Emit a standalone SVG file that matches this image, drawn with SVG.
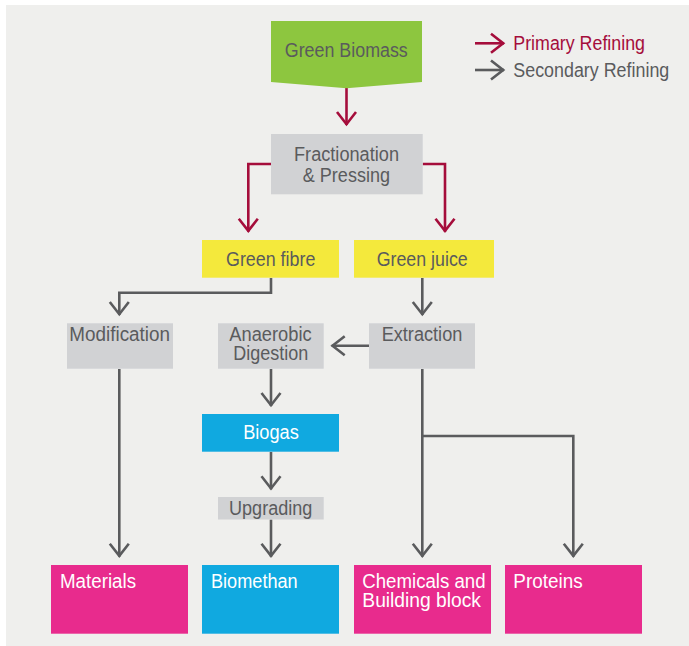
<svg xmlns="http://www.w3.org/2000/svg" width="689" height="646" viewBox="0 0 689 646">
  <style>
    text { font-family: "Liberation Sans", Arial, sans-serif; font-size: 20px; }
    .dark { fill: #5a5b5d; }
    .light { fill: #ffffff; }
    .mid { text-anchor: middle; }
    .grey { fill: #d1d2d4; }
    .prim { fill: none; stroke: #a50d3b; stroke-width: 2.6; }
    .sec { fill: none; stroke: #5a5b5d; stroke-width: 2.6; }
  </style>
  <defs>
    <marker id="headPrim" markerUnits="userSpaceOnUse" markerWidth="20" markerHeight="24" viewBox="-16 -12 20 24" refX="0" refY="0" orient="auto">
      <path d="M-13,-9.5 L-0.8,0 L-13,9.5" fill="none" stroke="#a50d3b" stroke-width="2.6"/>
    </marker>
    <marker id="headSec" markerUnits="userSpaceOnUse" markerWidth="20" markerHeight="24" viewBox="-16 -12 20 24" refX="0" refY="0" orient="auto">
      <path d="M-13,-9.5 L-0.8,0 L-13,9.5" fill="none" stroke="#5a5b5d" stroke-width="2.6"/>
    </marker>
  </defs>

  <rect x="0" y="0" width="689" height="646" fill="#ffffff"/>
  <rect x="6" y="5" width="683" height="641" fill="#efefed"/>

  <!-- legend -->
  <g id="legend">
    <path class="prim" d="M475,43.3 H504" marker-end="url(#headPrim)"/>
    <text x="513.3" y="50" fill="#a50d3b" textLength="131.7" lengthAdjust="spacingAndGlyphs">Primary Refining</text>
    <path class="sec" d="M475,70 H504" marker-end="url(#headSec)"/>
    <text class="dark" x="513.3" y="76.7" textLength="156" lengthAdjust="spacingAndGlyphs">Secondary Refining</text>
  </g>

  <!-- connectors -->
  <g id="connectors">
    <path class="prim" d="M346.5,88 V125" marker-end="url(#headPrim)"/>
    <path class="prim" d="M271,164 H248.3 V231.7" marker-end="url(#headPrim)"/>
    <path class="prim" d="M422.7,164 H445 V231.7" marker-end="url(#headPrim)"/>
    <path class="sec" d="M271,278 V292.7 H119.3 V315" marker-end="url(#headSec)"/>
    <path class="sec" d="M422.3,278 V315" marker-end="url(#headSec)"/>
    <path class="sec" d="M369,345.7 H331.7" marker-end="url(#headSec)"/>
    <path class="sec" d="M271,369 V406" marker-end="url(#headSec)"/>
    <path class="sec" d="M271,452 V489.3" marker-end="url(#headSec)"/>
    <path class="sec" d="M271,519.5 V556.7" marker-end="url(#headSec)"/>
    <path class="sec" d="M119.3,369 V556.7" marker-end="url(#headSec)"/>
    <path class="sec" d="M422.3,369 V556.7" marker-end="url(#headSec)"/>
    <path class="sec" d="M422.3,436 H573.3 V556.7" marker-end="url(#headSec)"/>
  </g>

  <!-- nodes -->
  <g id="green-biomass">
    <path d="M271,21 H422 V82 L346.5,88.3 L271,82 Z" fill="#8dc63f"/>
    <text class="dark mid" x="346.3" y="56.7" textLength="123" lengthAdjust="spacingAndGlyphs">Green Biomass</text>
  </g>
  <g id="fractionation">
    <rect class="grey" x="271" y="134" width="151.7" height="60.3"/>
    <text class="dark mid" x="346.5" y="160.7" textLength="105" lengthAdjust="spacingAndGlyphs">Fractionation</text>
    <text class="dark mid" x="346.4" y="181.7" textLength="87.3" lengthAdjust="spacingAndGlyphs">&amp; Pressing</text>
  </g>
  <g id="green-fibre">
    <rect x="202" y="240" width="137" height="37.7" fill="#f4e93c"/>
    <text class="dark mid" x="270.7" y="265.7" textLength="89.3" lengthAdjust="spacingAndGlyphs">Green fibre</text>
  </g>
  <g id="green-juice">
    <rect x="354" y="240" width="140" height="37.7" fill="#f4e93c"/>
    <text class="dark mid" x="422.2" y="265.7" textLength="91" lengthAdjust="spacingAndGlyphs">Green juice</text>
  </g>
  <g id="modification">
    <rect class="grey" x="67" y="323.3" width="106" height="45.4"/>
    <text class="dark mid" x="119.7" y="341" textLength="100.7" lengthAdjust="spacingAndGlyphs">Modification</text>
  </g>
  <g id="anaerobic-digestion">
    <rect class="grey" x="218" y="323.3" width="105.7" height="45.4"/>
    <text class="dark mid" x="270.5" y="340.7" textLength="82.3" lengthAdjust="spacingAndGlyphs">Anaerobic</text>
    <text class="dark mid" x="270.8" y="360" textLength="75" lengthAdjust="spacingAndGlyphs">Digestion</text>
  </g>
  <g id="extraction">
    <rect class="grey" x="369" y="323.3" width="106" height="45.4"/>
    <text class="dark mid" x="422" y="341" textLength="80.7" lengthAdjust="spacingAndGlyphs">Extraction</text>
  </g>
  <g id="biogas">
    <rect x="202" y="414" width="137" height="37.7" fill="#10a9e0"/>
    <text class="light mid" x="271" y="439.3" textLength="55.7" lengthAdjust="spacingAndGlyphs">Biogas</text>
  </g>
  <g id="upgrading">
    <rect class="grey" x="218" y="497" width="105.7" height="22.5"/>
    <text class="dark mid" x="270.7" y="515" textLength="83.3" lengthAdjust="spacingAndGlyphs">Upgrading</text>
  </g>
  <g id="materials">
    <rect x="51" y="565" width="137" height="68.7" fill="#e82b8d"/>
    <text class="light" x="60" y="587.7" textLength="76" lengthAdjust="spacingAndGlyphs">Materials</text>
  </g>
  <g id="biomethan">
    <rect x="202" y="565" width="137" height="68.7" fill="#10a9e0"/>
    <text class="light" x="211" y="587.7" textLength="86.7" lengthAdjust="spacingAndGlyphs">Biomethan</text>
  </g>
  <g id="chemicals">
    <rect x="354" y="565" width="137" height="68.7" fill="#e82b8d"/>
    <text class="light" x="362.3" y="587.7" textLength="123.3" lengthAdjust="spacingAndGlyphs">Chemicals and</text>
    <text class="light" x="362.3" y="606.7" textLength="118.7" lengthAdjust="spacingAndGlyphs">Building block</text>
  </g>
  <g id="proteins">
    <rect x="505" y="565" width="137" height="68.7" fill="#e82b8d"/>
    <text class="light" x="513.3" y="587.7" textLength="69.3" lengthAdjust="spacingAndGlyphs">Proteins</text>
  </g>
</svg>
